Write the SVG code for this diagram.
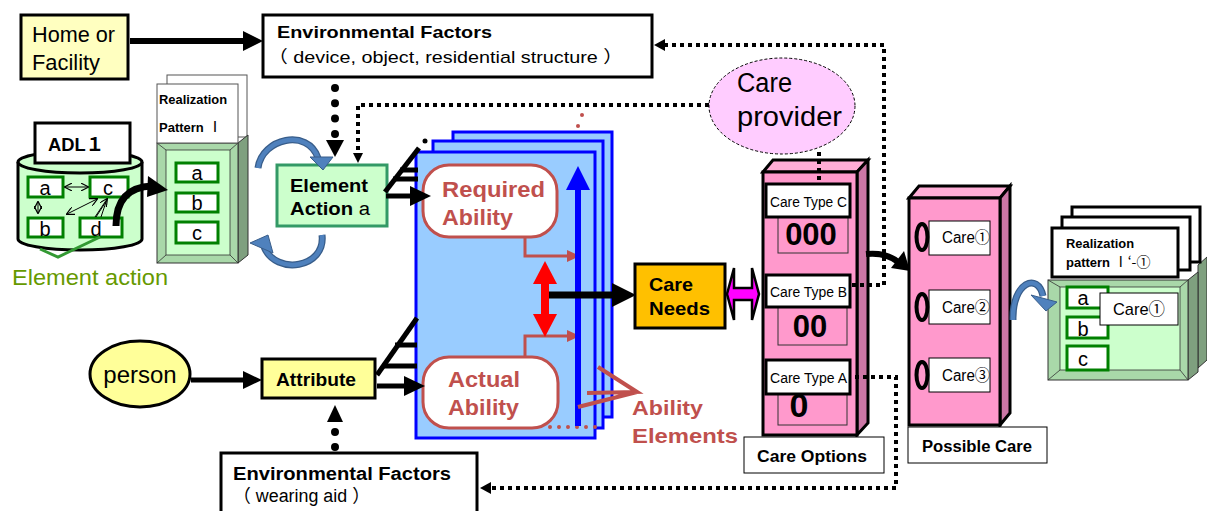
<svg xmlns="http://www.w3.org/2000/svg" width="1207" height="511" viewBox="0 0 1207 511">
  <defs>
    <style>
      text { font-family: "Liberation Sans", Arial, "Noto Sans CJK JP", sans-serif; fill: #000; }
      .b { font-weight: bold; }
      .cjk { font-family: "Noto Sans CJK JP", sans-serif; font-weight: normal; }
      .red { fill: #C0504D; font-weight: bold; }
      .box { fill: #fff; stroke: #000; stroke-width: 3; }
      .thin { fill: #fff; stroke: #000; stroke-width: 1; }
      .gbox { fill: #fff; stroke: #008000; stroke-width: 3; }
      .page { fill: #99CCFF; stroke: #0000FF; stroke-width: 3; }
      .pinkf { fill: #FF99CC; stroke: #000; stroke-width: 3; }
      .pinkt { fill: #FFADD6; stroke: #000; stroke-width: 3; }
      .pinks { fill: #CC77A6; stroke: #000; stroke-width: 3; }
      .bevel { fill: #A9D8A9; stroke: #333; stroke-width: 1; }
      .inner { fill: #CCFFCC; stroke: #333; stroke-width: 0.8; }
      .side { fill: #7FA07F; stroke: #333; stroke-width: 1; }
      .dot { fill: none; stroke: #000; stroke-width: 4; stroke-dasharray: 4 4; }
      .bigdot { fill: none; stroke: #000; stroke-width: 8; stroke-linecap: round; }
      .heavy { fill: none; stroke: #000; stroke-width: 5; }
      .curve { fill: none; stroke: #385D8A; stroke-width: 7; }
      .curvein { fill: none; stroke: #4F81BD; stroke-width: 4.5; }
      .bluehead { fill: #4F81BD; stroke: #385D8A; stroke-width: 1; }
      .brown { fill: none; stroke: #C0504D; stroke-width: 3; }
      .oval { fill: none; stroke: #000; stroke-width: 4; }
    </style>
    <marker id="open" viewBox="0 0 10 10" refX="9" refY="5" markerWidth="8" markerHeight="8" markerUnits="userSpaceOnUse" orient="auto-start-reverse">
      <path d="M0,0 L10,5 L0,10" fill="none" stroke="#000" stroke-width="1.5"/>
    </marker>
  </defs>

  <!-- Home or Facility -->
  <g id="home">
    <rect x="21" y="15" width="107" height="64" fill="#FFFFC0" stroke="#000" stroke-width="3"/>
    <text x="32" y="42" font-size="22" textLength="83" lengthAdjust="spacingAndGlyphs">Home or</text>
    <text x="32" y="70" font-size="22" textLength="68" lengthAdjust="spacingAndGlyphs">Facility</text>
  </g>

  <!-- Environmental Factors (top) -->
  <g id="env-top">
    <rect class="box" x="263" y="15" width="389" height="62"/>
    <text class="b" x="277" y="38" font-size="17" textLength="215" lengthAdjust="spacingAndGlyphs">Environmental Factors</text>
    <text x="268" y="63" font-size="17" textLength="355" lengthAdjust="spacingAndGlyphs">（ device, object, residential structure ）</text>
  </g>

  <!-- ADL cylinder -->
  <g id="adl">
    <path d="M18 162 V239 A62 11 0 0 0 142 239 V162" fill="#CCFFCC" stroke="#000" stroke-width="3"/>
    <ellipse cx="80" cy="162" rx="62" ry="11" fill="#CCFFCC" stroke="#000" stroke-width="3"/>
    <rect class="box" x="35" y="123" width="95" height="40"/>
    <text class="b" x="48" y="151" font-size="19" textLength="56" lengthAdjust="spacingAndGlyphs">ADL１</text>
    <rect class="gbox" x="28" y="177" width="35" height="20"/>
    <rect class="gbox" x="90" y="177" width="38" height="20"/>
    <rect class="gbox" x="28" y="218" width="35" height="19"/>
    <rect class="gbox" x="80" y="218" width="42" height="19"/>
    <text x="45" y="195" font-size="20" text-anchor="middle">a</text>
    <text x="108" y="195" font-size="20" text-anchor="middle">c</text>
    <text x="45" y="236" font-size="20" text-anchor="middle">b</text>
    <text x="96" y="236" font-size="20" text-anchor="middle">d</text>
    <!-- element relations -->
    <line x1="65" y1="187" x2="88" y2="187" stroke="#000" stroke-width="1" marker-start="url(#open)" marker-end="url(#open)"/>
    <line x1="38" y1="202" x2="38" y2="213" stroke="#000" stroke-width="1" marker-start="url(#open)" marker-end="url(#open)"/>
    <line x1="97" y1="199" x2="67" y2="214" stroke="#000" stroke-width="1" marker-start="url(#open)" marker-end="url(#open)"/>
    <line x1="107" y1="199" x2="95" y2="217" stroke="#000" stroke-width="1" marker-start="url(#open)"/>
    <line x1="107" y1="199" x2="101" y2="217" stroke="#000" stroke-width="1"/>
    <line x1="96" y1="217" x2="107" y2="200" stroke="#000" stroke-width="1"/>
    <polyline points="40,249 58,257 100,237" fill="none" stroke="#339933" stroke-width="3"/>
    <text x="12" y="285" font-size="22" style="fill:#669900" textLength="156" lengthAdjust="spacingAndGlyphs">Element action</text>
  </g>

  <!-- Realization Pattern I -->
  <g id="pattern-left">
    <rect x="167" y="75" width="80" height="62" fill="#fff" stroke="#555" stroke-width="1"/>
    <polygon class="side" points="238,143 248,135 248,255 238,263"/>
    <rect class="bevel" x="157" y="143" width="81" height="120"/>
    <rect class="inner" x="166" y="150" width="64" height="105"/>
    <path d="M157 143 L166 150 M238 143 L230 150 M157 263 L166 255 M238 263 L230 255" stroke="#333" stroke-width="0.8"/>
    <rect x="157" y="84" width="81" height="59" fill="#fff" stroke="#555" stroke-width="1"/>
    <text class="b" x="159" y="104" font-size="13" textLength="68" lengthAdjust="spacingAndGlyphs">Realization</text>
    <text class="b" x="159" y="132" font-size="13">Pattern <tspan class="cjk" font-size="15">Ⅰ</tspan></text>
    <rect class="gbox" x="176" y="163" width="42" height="19"/>
    <rect class="gbox" x="176" y="193" width="42" height="19"/>
    <rect class="gbox" x="176" y="222" width="42" height="21"/>
    <text x="197" y="180" font-size="20" text-anchor="middle">a</text>
    <text x="197" y="210" font-size="20" text-anchor="middle">b</text>
    <text x="197" y="240" font-size="20" text-anchor="middle">c</text>
  </g>

  <!-- Element Action a -->
  <g id="element-action">
    <rect x="277" y="165" width="110" height="61" fill="#CCFFCC" stroke="#339966" stroke-width="3"/>
    <text class="b" x="290" y="192" font-size="18" textLength="78" lengthAdjust="spacingAndGlyphs">Element</text>
    <text x="290" y="215" font-size="18" textLength="80" lengthAdjust="spacingAndGlyphs"><tspan class="b">Action</tspan> a</text>
  </g>

  <!-- person -->
  <g id="person">
    <ellipse cx="140" cy="374" rx="50" ry="33" fill="#FFFF99" stroke="#000" stroke-width="3"/>
    <text x="140" y="383" font-size="24" text-anchor="middle">person</text>
  </g>

  <!-- Attribute -->
  <g id="attribute">
    <rect x="262" y="359" width="113" height="39" fill="#FFFF99" stroke="#000" stroke-width="3"/>
    <text class="b" x="276" y="386" font-size="18" textLength="80" lengthAdjust="spacingAndGlyphs">Attribute</text>
  </g>

  <!-- Environmental Factors (bottom) -->
  <g id="env-bottom">
    <rect class="box" x="221" y="453" width="256" height="62"/>
    <text class="b" x="233" y="480" font-size="18" textLength="218" lengthAdjust="spacingAndGlyphs">Environmental Factors</text>
    <text x="233" y="502" font-size="18" textLength="137" lengthAdjust="spacingAndGlyphs">（ wearing aid ）</text>
  </g>

  <!-- Ability pages -->
  <g id="ability">
    <rect class="page" x="453" y="132" width="159" height="285"/>
    <rect class="page" x="433" y="141" width="170" height="287"/>
    <rect class="page" x="416" y="152" width="179" height="286"/>
    <circle cx="582" cy="115" r="2" fill="#C0504D"/>
    <circle cx="578" cy="126" r="2" fill="#C0504D"/>
    <path d="M550 427 H604" fill="none" stroke="#C0504D" stroke-width="4" stroke-linecap="round" stroke-dasharray="0 9"/>
    <!-- required / actual -->
    <rect x="423" y="165" width="134" height="72" rx="26" fill="#fff" stroke="#C0504D" stroke-width="3"/>
    <text class="red" x="442" y="197" font-size="22" textLength="103" lengthAdjust="spacingAndGlyphs">Required</text>
    <text class="red" x="442" y="225" font-size="22" textLength="71" lengthAdjust="spacingAndGlyphs">Ability</text>
    <rect x="423" y="357" width="135" height="71" rx="26" fill="#fff" stroke="#C0504D" stroke-width="3"/>
    <text class="red" x="448" y="387" font-size="22" textLength="72" lengthAdjust="spacingAndGlyphs">Actual</text>
    <text class="red" x="448" y="415" font-size="22" textLength="71" lengthAdjust="spacingAndGlyphs">Ability</text>
    <path class="brown" d="M525 237 V256 H570"/>
    <polygon points="580,256 567,250 567,262" fill="#C0504D"/>
    <path class="brown" d="M525 357 V336 H570"/>
    <polygon points="580,336 567,330 567,342" fill="#C0504D"/>
    <!-- ability axis -->
    <line x1="578" y1="426" x2="578" y2="186" stroke="#0000FF" stroke-width="6"/>
    <polygon points="578,166 566,190 590,190" fill="#0000FF"/>
    <!-- gap between required and actual -->
    <rect x="541" y="281" width="8" height="36" fill="#FF0000"/>
    <polygon points="545,261 533,284 557,284" fill="#FF0000"/>
    <polygon points="545,337 533,314 557,314" fill="#FF0000"/>
  </g>

  <!-- Ability Elements label -->
  <g id="ability-elements">
    <path d="M598 367 L637 392 L587 393 M637 392 L578 407" fill="none" stroke="#C0504D" stroke-width="4"/>
    <text class="red" x="632" y="415" font-size="21" textLength="71" lengthAdjust="spacingAndGlyphs">Ability</text>
    <text class="red" x="632" y="443" font-size="21" textLength="106" lengthAdjust="spacingAndGlyphs">Elements</text>
  </g>

  <!-- Care Needs -->
  <g id="care-needs">
    <rect x="635" y="264" width="90" height="64" fill="#FFC000" stroke="#000" stroke-width="3"/>
    <text class="b" x="649" y="291" font-size="19" textLength="44" lengthAdjust="spacingAndGlyphs">Care</text>
    <text class="b" x="649" y="315" font-size="19" textLength="61" lengthAdjust="spacingAndGlyphs">Needs</text>
  </g>

  <!-- Care provider -->
  <g id="care-provider">
    <ellipse cx="782" cy="106" rx="73" ry="48" fill="#FFCCFF" stroke="#000" stroke-width="1" stroke-dasharray="3 2"/>
    <text x="737" y="92" font-size="27" textLength="55" lengthAdjust="spacingAndGlyphs">Care</text>
    <text x="737" y="126" font-size="27" textLength="105" lengthAdjust="spacingAndGlyphs">provider</text>
  </g>

  <!-- Care Options -->
  <g id="care-options">
    <polygon class="pinkt" points="763,172 773,160 868,160 857,172"/>
    <polygon class="pinks" points="857,172 868,160 868,423 857,435"/>
    <rect class="pinkf" x="763" y="172" width="94" height="263"/>
    <rect x="778" y="217" width="70" height="36" fill="#FF99CC" stroke="#333" stroke-width="1"/>
    <rect class="box" x="766" y="184" width="84" height="33" stroke-width="4"/>
    <text x="770" y="207" font-size="14" textLength="77" lengthAdjust="spacingAndGlyphs">Care Type C</text>
    <text class="b" x="811" y="245" font-size="31" text-anchor="middle">000</text>
    <rect x="778" y="307" width="69" height="38" fill="#FF99CC" stroke="#333" stroke-width="1"/>
    <text class="b" x="810" y="337" font-size="31" text-anchor="middle">00</text>
    <rect class="box" x="766" y="275" width="84" height="32" stroke-width="4"/>
    <text x="770" y="297" font-size="14" textLength="77" lengthAdjust="spacingAndGlyphs">Care Type B</text>
    <rect x="778" y="394" width="69" height="31" fill="#FF99CC" stroke="#333" stroke-width="1"/>
    <text class="b" x="799" y="417" font-size="34" text-anchor="middle">0</text>
    <rect class="box" x="766" y="360" width="84" height="34" stroke-width="4"/>
    <text x="770" y="383" font-size="14" textLength="77" lengthAdjust="spacingAndGlyphs">Care Type A</text>
    <rect class="thin" x="744" y="437" width="140" height="36"/>
    <text class="b" x="757" y="462" font-size="17" textLength="110" lengthAdjust="spacingAndGlyphs">Care Options</text>
  </g>

  <!-- Possible Care -->
  <g id="possible-care">
    <polygon class="pinkt" points="909,198 919,186 1010,186 1000,198"/>
    <polygon class="pinks" points="1000,198 1010,186 1010,413 1000,425"/>
    <rect class="pinkf" x="909" y="198" width="91" height="227"/>
    <rect class="thin" x="929" y="221" width="61" height="34"/>
    <rect class="thin" x="929" y="290" width="61" height="34"/>
    <rect class="thin" x="929" y="358" width="61" height="34"/>
    <ellipse class="oval" cx="922" cy="237" rx="5.5" ry="13"/>
    <ellipse class="oval" cx="922" cy="307" rx="5.5" ry="13"/>
    <ellipse class="oval" cx="922" cy="375" rx="5.5" ry="13"/>
    <text x="942" y="243" font-size="16" textLength="48" lengthAdjust="spacingAndGlyphs">Care①</text>
    <text x="942" y="313" font-size="16" textLength="48" lengthAdjust="spacingAndGlyphs">Care②</text>
    <text x="942" y="381" font-size="16" textLength="48" lengthAdjust="spacingAndGlyphs">Care③</text>
    <rect class="thin" x="908" y="427" width="139" height="36"/>
    <text class="b" x="922" y="452" font-size="16" textLength="110" lengthAdjust="spacingAndGlyphs">Possible Care</text>
  </g>

  <!-- Realization pattern I'-1 -->
  <g id="pattern-right">
    <polygon class="side" points="1198,265 1207,257 1207,360 1198,368"/>
    <polygon class="side" points="1188,280 1198,272 1198,372 1188,380"/>
    <rect class="bevel" x="1048" y="280" width="140" height="100"/>
    <rect class="inner" x="1060" y="287" width="120" height="83"/>
    <path d="M1048 280 L1060 287 M1188 280 L1180 287 M1048 380 L1060 370 M1188 380 L1180 370" stroke="#333" stroke-width="0.8"/>
    <rect class="box" x="1072" y="207" width="128" height="55" stroke-width="4"/>
    <rect class="box" x="1062" y="217" width="128" height="53" stroke-width="4"/>
    <rect class="box" x="1052" y="228" width="126" height="49" stroke-width="4"/>
    <text class="b" x="1066" y="248" font-size="13" textLength="68" lengthAdjust="spacingAndGlyphs">Realization</text>
    <text class="b" x="1066" y="267" font-size="13">pattern <tspan class="cjk" font-size="14">Ⅰ‘-①</tspan></text>
    <rect class="gbox" x="1067" y="287" width="41" height="21"/>
    <rect class="gbox" x="1067" y="317" width="41" height="21"/>
    <rect class="gbox" x="1067" y="346" width="41" height="24"/>
    <text x="1083" y="305" font-size="20" text-anchor="middle">a</text>
    <text x="1083" y="336" font-size="20" text-anchor="middle">b</text>
    <text x="1083" y="366" font-size="20" text-anchor="middle">c</text>
    <rect class="thin" x="1100" y="293" width="78" height="32"/>
    <text x="1113" y="315" font-size="17" textLength="52" lengthAdjust="spacingAndGlyphs">Care①</text>
  </g>

  <!-- connectors -->
  <g id="connectors">
    <!-- Home or Facility -> Environmental Factors -->
    <line x1="130" y1="41" x2="245" y2="41" stroke="#000" stroke-width="6"/>
    <polygon points="263,41 243,31 243,51"/>
    <!-- person -> Attribute -->
    <line x1="191" y1="380" x2="245" y2="380" stroke="#000" stroke-width="5"/>
    <polygon points="262,380 243,371 243,389"/>

    <!-- environmental factors (top) -> element action -->
    <path class="bigdot" d="M335 88 V135" stroke-dasharray="0 15.3"/>
    <polygon points="326,140 344,140 335,157"/>
    <!-- environmental factors (bottom) -> attribute -->
    <path class="bigdot" d="M335 447 V431" stroke-dasharray="0 15"/>
    <polygon points="327,422 343,422 335,405"/>

    <!-- care provider -> element action -->
    <path class="dot" d="M709 105 H358 V153"/>
    <polygon points="353,153 363,153 358,163"/>
    <!-- care type B -> environmental factors (top) -->
    <path class="dot" d="M852 285 H884 V45 H664"/>
    <polygon points="654,45 665,39 665,51"/>
    <!-- care type A -> environmental factors (bottom) -->
    <path class="dot" d="M855 377 H896 V488 H490"/>
    <polygon points="480,488 491,482 491,494"/>
    <!-- care provider -> care type C -->
    <path class="dot" d="M819 152 V184"/>

    <!-- element action fan-out -->
    <line class="heavy" x1="385" y1="192" x2="419" y2="148"/>
    <line class="heavy" x1="400" y1="170" x2="418" y2="170"/>
    <line class="heavy" x1="393" y1="179" x2="418" y2="179"/>
    <line class="heavy" x1="386" y1="196" x2="412" y2="196"/>
    <polygon points="431,196 410,186 410,206"/>
    <circle cx="425" cy="141" r="2.5"/>

    <!-- attribute fan-out -->
    <line class="heavy" x1="377" y1="375" x2="417" y2="318"/>
    <line class="heavy" x1="395" y1="345" x2="417" y2="345"/>
    <line class="heavy" x1="382" y1="366" x2="417" y2="366"/>
    <line class="heavy" x1="377" y1="386" x2="406" y2="386"/>
    <polygon points="425,386 404,376 404,396"/>

    <!-- ADL -> realization pattern -->
    <path d="M116 226 C116 200, 128 187, 152 186" fill="none" stroke="#000" stroke-width="7"/>
    <polygon points="168,190 148,176 147,197"/>

    <!-- blue curved arrows around element action -->
    <path class="curve" d="M258 168 C262 138, 308 128, 318 158"/>
    <path class="curvein" d="M258 168 C262 138, 308 128, 318 158"/>
    <polygon class="bluehead" points="310,157 333,157 323,170"/>
    <path class="curve" d="M322 235 C326 268, 276 276, 264 247"/>
    <path class="curvein" d="M322 235 C326 268, 276 276, 264 247"/>
    <polygon class="bluehead" points="250,243 268,235 273,253"/>

    <!-- required vs actual -> care needs -->
    <line x1="549" y1="295" x2="614" y2="295" stroke="#000" stroke-width="7"/>
    <polygon points="636,295 612,283 612,307"/>

    <!-- care needs <-> care options -->
    <polygon points="727,294 734,268 734,288 752,288 752,268 759,294 752,320 752,300 734,300 734,320" fill="#FF00FF" stroke="#000" stroke-width="2.5"/>

    <!-- care options -> possible care -->
    <path d="M866 254 Q886 252 898 262" fill="none" stroke="#000" stroke-width="6"/>
    <polygon points="910,271 891,268 904,251"/>

    <!-- possible care -> realization pattern -->
    <path class="curve" d="M1013 320 C1012 282, 1038 272, 1043 296"/>
    <path class="curvein" d="M1013 320 C1012 282, 1038 272, 1043 296"/>
    <polygon class="bluehead" points="1031,295 1057,302 1046,311"/>
  </g>
</svg>
